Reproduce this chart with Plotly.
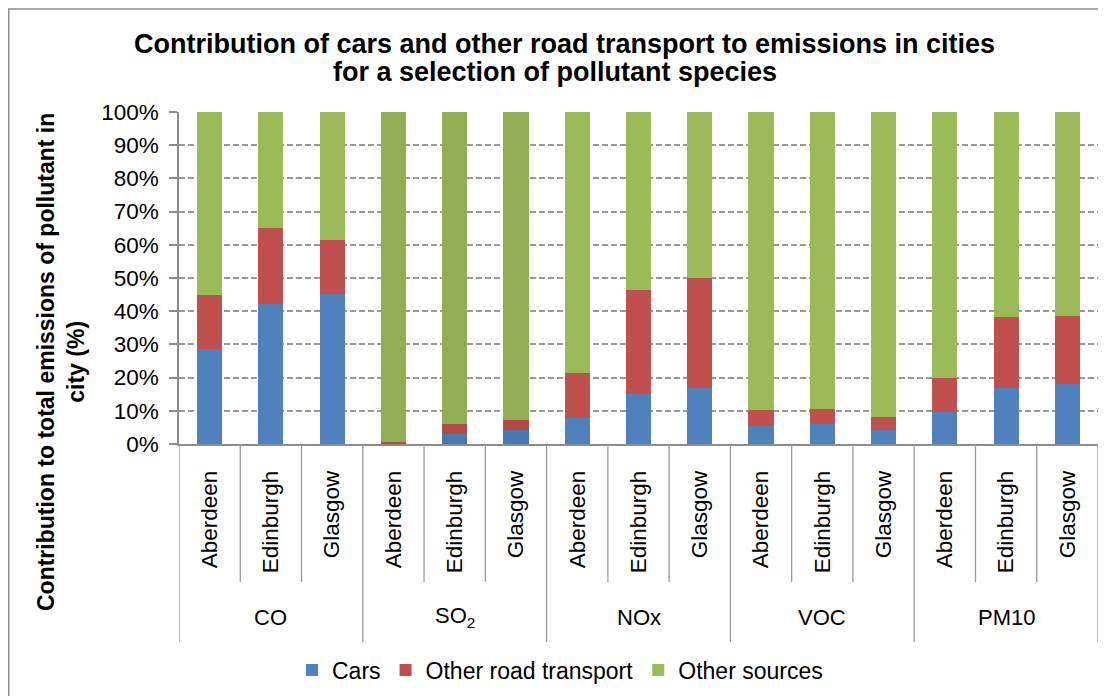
import plotly.graph_objects as go

# ---- data ----
groups = ["CO", "SO<sub>2</sub>", "NOx", "VOC", "PM10"]
cities = ["Aberdeen", "Edinburgh", "Glasgow"]
cars = [28.5, 42.1, 45.1, 0.1, 2.9, 4.1, 7.7, 15.0, 16.8, 5.3, 5.9, 4.3, 9.5, 16.8, 18.0]
other_road = [16.3, 22.9, 16.3, 0.4, 3.2, 3.2, 13.8, 31.3, 33.1, 4.8, 4.5, 3.7, 10.3, 21.4, 20.5]
other_sources = [55.2, 35.0, 38.6, 99.5, 93.9, 92.7, 78.5, 53.7, 50.1, 89.9, 89.6, 92.0, 80.2, 61.8, 61.5]
y_ticks = [0, 10, 20, 30, 40, 50, 60, 70, 80, 90, 100]

series_names = ["Cars", "Other road transport", "Other sources"]
base_colors = ["#4F81BD", "#C0504D", "#9BBB59"]
so2_colors = ["#4A78B0", "#B34A48", "#91AE53"]

# ---- layout geometry (page has an 8px body margin) ----
OFF = 8
W, H = 1106, 696
L = 179 - OFF
T = 112 - OFF
R = W - (1098 - OFF)
B = H - (444 - OFF)
PW = W - L - R
PH = H - T - B
FONT = "Liberation Sans, Arial, sans-serif"


def px(xs_):
    return (xs_ - OFF - L) / PW


def py(ys_):
    return (H - B - (ys_ - OFF)) / PH


n_city = len(cities)
labels = [c for g in groups for c in cities]
xs = list(range(len(labels)))
group_of = [gi for gi, g in enumerate(groups) for c in cities]

fig = go.Figure()
for si, (name, vals) in enumerate(zip(series_names, [cars, other_road, other_sources])):
    colors = [so2_colors[si] if group_of[i] == 1 else base_colors[si] for i in xs]
    fig.add_trace(go.Bar(
        x=xs, y=vals, name=name,
        marker=dict(color=colors, line=dict(width=0)),
        width=0.41,
    ))

grey = "#8C8C8C"
shapes = []
# outer chart border
shapes.append(dict(type="rect", xref="paper", yref="paper",
                   x0=(0.75 - L) / PW, y0=py(9), x1=px(W + 20), y1=py(H + 20),
                   line=dict(color=grey, width=1.5), fillcolor="rgba(0,0,0,0)", layer="below"))
# category dividers below the axis
for i in range(len(labels) + 1):
    xv = i - 0.5
    is_group = (i % n_city == 0)
    shapes.append(dict(type="line", xref="x", yref="paper",
                       x0=xv, x1=xv, y0=0, y1=py(642 if is_group else 582),
                       line=dict(color="#9A9A9A", width=1.3)))

annotations = []
# title lines
annotations.append(dict(text="<b>Contribution of cars and other road transport to emissions in cities</b>",
                        xref="paper", yref="paper", x=px(564), y=py(44), showarrow=False,
                        xanchor="center", yanchor="middle",
                        font=dict(size=27, color="#000000", family=FONT)))
annotations.append(dict(text="<b>for a selection of pollutant species</b>",
                        xref="paper", yref="paper", x=px(555), y=py(72), showarrow=False,
                        xanchor="center", yanchor="middle",
                        font=dict(size=27, color="#000000", family=FONT)))
# y-axis title
annotations.append(dict(text="<b>Contribution to total emissions of pollutant in<br>city (%)</b>",
                        xref="paper", yref="paper", x=px(61), y=py(362), showarrow=False,
                        textangle=-90, xanchor="center", yanchor="middle",
                        font=dict(size=23, color="#000000", family=FONT)))
# group labels
for gi, g in enumerate(groups):
    annotations.append(dict(text=g, xref="x", yref="paper",
                            x=gi * n_city + (n_city - 1) / 2, y=py(617),
                            showarrow=False, xanchor="center", yanchor="middle",
                            font=dict(size=22, color="#000000", family=FONT)))

fig.update_layout(
    width=W, height=H,
    margin=dict(l=L, r=R, t=T, b=B, autoexpand=False),
    barmode="stack",
    bargap=0.59,
    paper_bgcolor="white", plot_bgcolor="white",
    font=dict(family=FONT, size=22, color="#000000"),
    showlegend=True,
    legend=dict(orientation="h", x=px(560), y=py(670), xanchor="center", yanchor="middle",
                font=dict(size=23), traceorder="normal", itemclick=False, itemdoubleclick=False,
                bgcolor="rgba(0,0,0,0)"),
    shapes=shapes,
    annotations=annotations,
    hovermode=False,
    xaxis=dict(
        range=[-0.5, len(labels) - 0.5],
        tickmode="array", tickvals=xs, ticktext=labels, tickangle=-90,
        ticks="", showgrid=False, zeroline=False,
        showline=True, linecolor=grey, linewidth=1.5,
        tickfont=dict(size=22.5, color="#000000"),
        ticklabelstandoff=16,
    ),
    yaxis=dict(
        range=[0, 100],
        tickmode="array", tickvals=y_ticks, ticktext=[f"{v}%" for v in y_ticks],
        ticks="outside", ticklen=8, tickcolor=grey, tickwidth=1.5,
        showline=True, linecolor=grey, linewidth=1.5,
        showgrid=True, gridcolor="#999999", gridwidth=1.5, griddash="6px,3px",
        zeroline=False,
        tickfont=dict(size=22.5, color="#000000"),
        ticklabelstandoff=6,
    ),
)

fig.write_html("out.html")
